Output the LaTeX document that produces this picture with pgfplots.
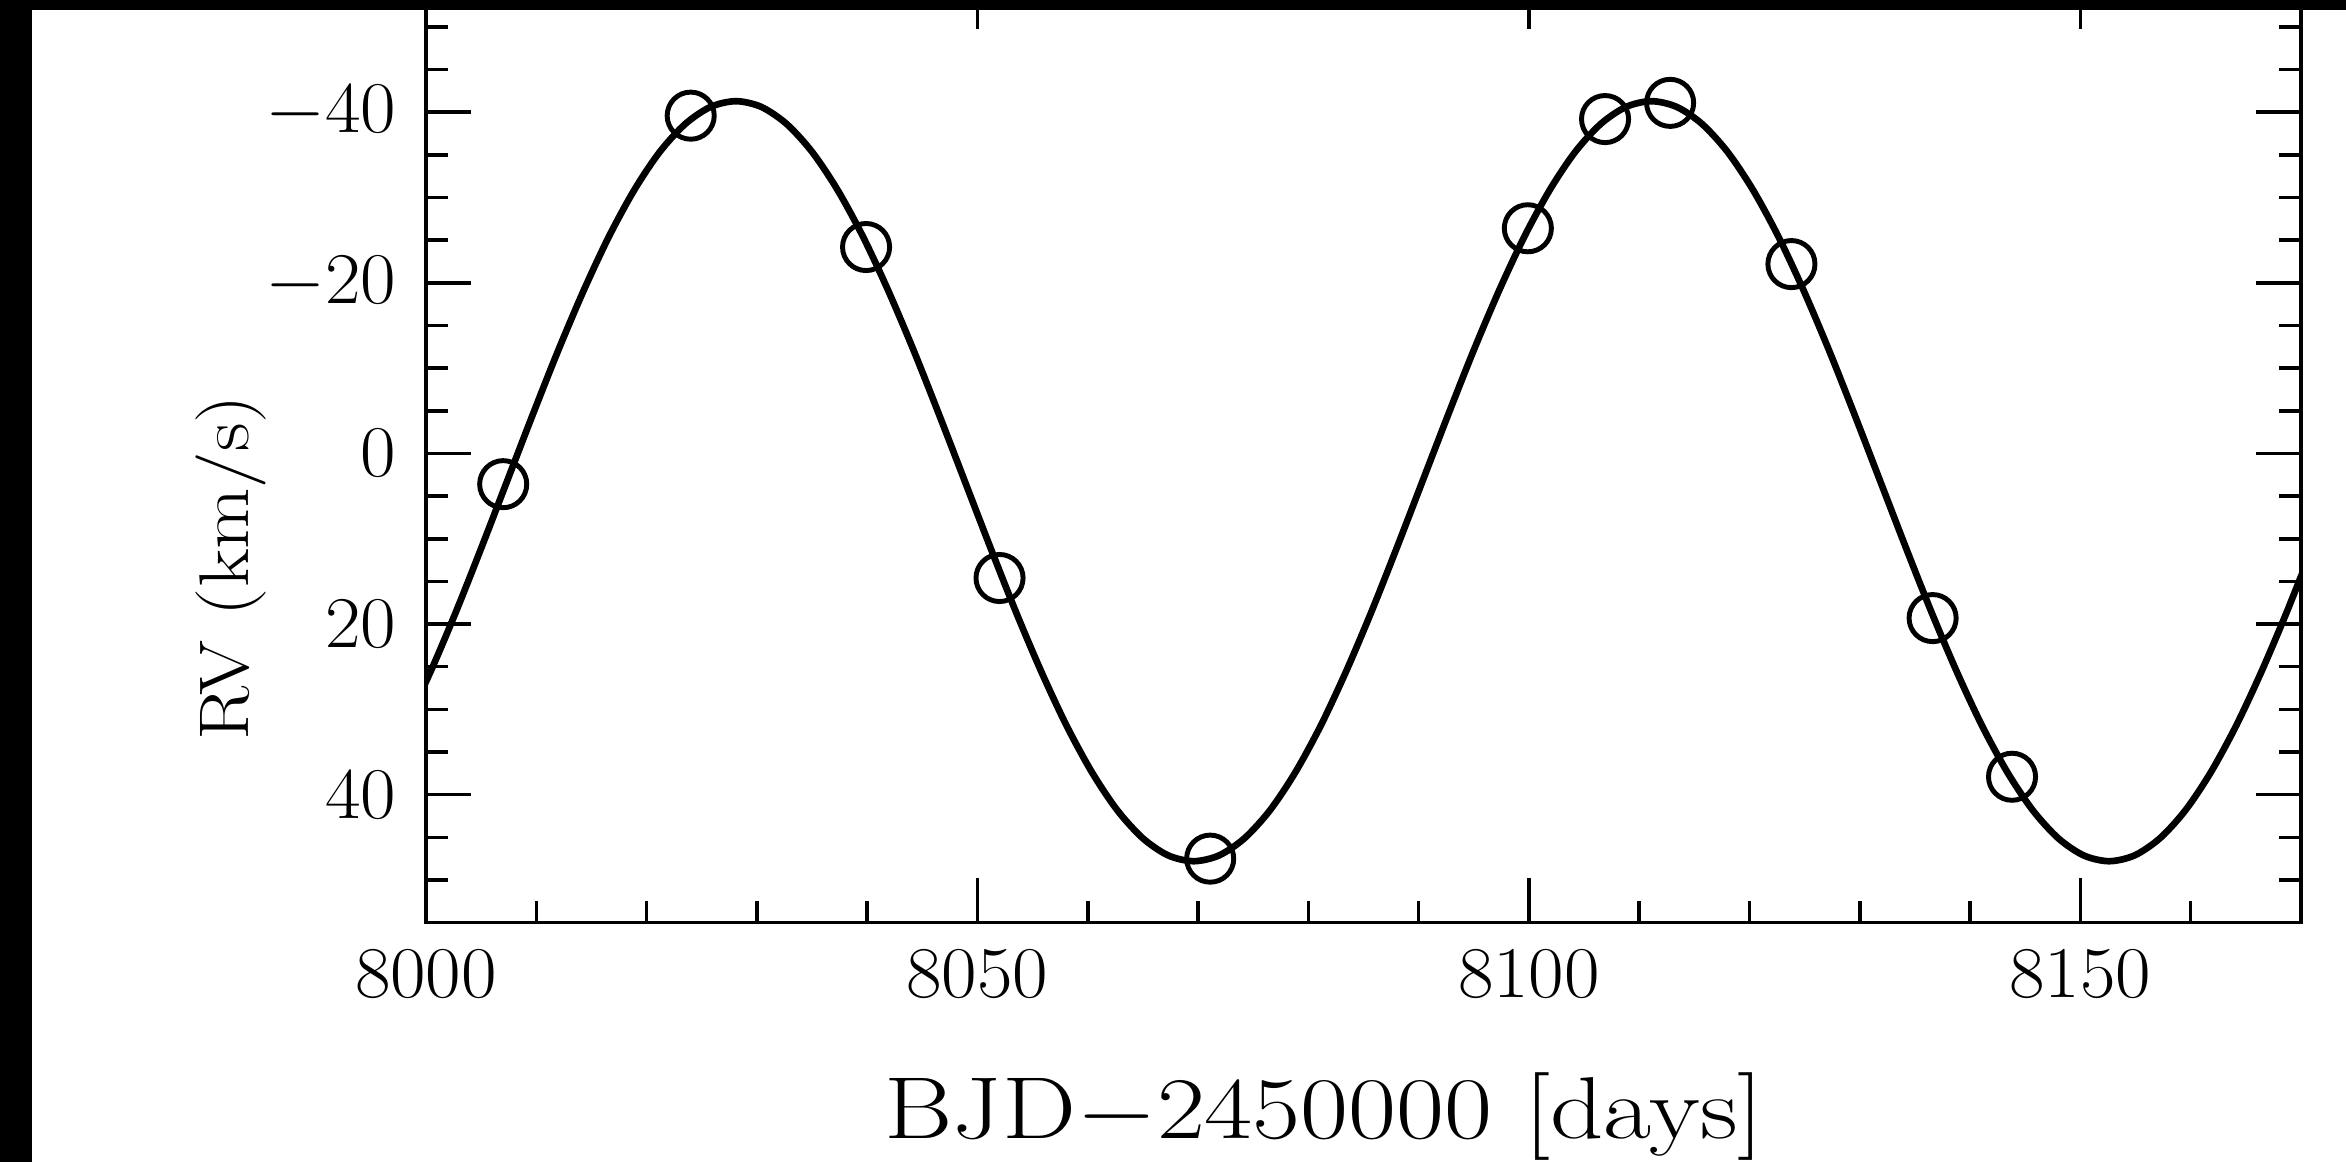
\documentclass[border=0pt]{standalone}
\usepackage{pgfplots}
\pgfplotsset{compat=1.18}
\pgfplotstableread{
t rv
8007.0 3.6
8024.0 -39.6
8039.9 -24.2
8052.0 14.6
8071.1 47.5
8099.9 -26.4
8106.9 -39.2
8112.8 -41.1
8123.8 -22.2
8136.6 19.3
8143.8 37.9
}\obsdata
\pgfplotstableread{
t rv
7998.13 31.89
8000.43 25.53
8002.74 18.49
8005.04 10.99
8007.35 3.25
8009.66 -4.49
8011.96 -11.99
8014.27 -19.03
8016.57 -25.39
8018.88 -30.88
8021.18 -35.33
8023.49 -38.61
8025.79 -40.62
8028.10 -41.30
8030.41 -40.62
8032.71 -38.61
8035.02 -35.33
8037.32 -30.88
8039.63 -25.39
8041.93 -19.03
8044.24 -11.99
8046.54 -4.49
8048.85 3.25
8051.16 10.99
8053.46 18.49
8055.77 25.53
8058.07 31.89
8060.38 37.38
8062.68 41.83
8064.99 45.11
8067.29 47.12
8069.60 47.80
8071.91 47.12
8074.21 45.11
8076.52 41.83
8078.82 37.38
8081.13 31.89
8083.43 25.53
8085.74 18.49
8088.04 10.99
8090.35 3.25
8092.66 -4.49
8094.96 -11.99
8097.27 -19.03
8099.57 -25.39
8101.88 -30.88
8104.18 -35.33
8106.49 -38.61
8108.79 -40.62
8111.10 -41.30
8113.41 -40.62
8115.71 -38.61
8118.02 -35.33
8120.32 -30.88
8122.63 -25.39
8124.93 -19.03
8127.24 -11.99
8129.54 -4.49
8131.85 3.25
8134.16 10.99
8136.46 18.49
8138.77 25.53
8141.07 31.89
8143.38 37.38
8145.68 41.83
8147.99 45.11
8150.29 47.12
8152.60 47.80
8154.91 47.12
8157.21 45.11
8159.52 41.83
8161.82 37.38
8164.13 31.89
8166.43 25.53
8168.74 18.49
8171.04 10.99
}\modeldata
\begin{document}
\begin{tikzpicture}
\useasboundingbox (0,0) rectangle (23.46,11.62);
\clip (0,0) rectangle (23.46,11.62);
\fill[white] (0,0) rectangle (23.46,11.62);
\begin{axis}[
  at={(4.26cm,2.394cm)}, anchor=south west,
  scale only axis, width=18.75cm, height=9.383cm,
  xmin=8000, xmax=8170, ymin=-55, ymax=55, y dir=reverse,
  xtick={8000,8050,8100,8150},
  minor xtick={8000,8010,...,8170},
  ytick={-40,-20,0,20,40},
  minor ytick={-55,-50,...,55},
  major tick length=0.45cm, minor tick length=0.22cm,
  every tick/.style={black, line width=1pt},
  axis line style={line width=1pt},
  /pgf/number format/1000 sep={},
  xticklabel={\scalebox{1.06}[1]{\axisdefaultticklabel}},
  yticklabel={\scalebox{1.06}[1]{\axisdefaultticklabel}},
  xticklabel style={font=\fontsize{21}{25}\selectfont, yshift=-0.15cm},
  yticklabel style={font=\fontsize{21}{25}\selectfont, xshift=-0.174cm},
  xlabel={\scalebox{1.19}[1]{BJD$-$2450000 [days]}},
  ylabel={\scalebox{1.13}[1]{RV (km/s)}},
  xlabel style={at={(axis description cs:0.479,-0.2296)}, anchor=base, font=\fontsize{25}{30}\selectfont},
  ylabel style={at={(axis description cs:-0.0949,0.378)}, anchor=base, font=\fontsize{20}{24}\selectfont},
  clip=true,
]
\addplot[black, line width=1.9pt, smooth, no marks] table[x=t, y=rv] {\modeldata};
\addplot[only marks, mark=o, mark size=6.7pt, mark options={black, line width=1.4pt}] table[x=t, y=rv] {\obsdata};
\end{axis}
\fill[black] (0,0) rectangle (0.325,11.62);
\fill[black] (0,11.52) rectangle (23.46,11.62);
\end{tikzpicture}
\end{document}
